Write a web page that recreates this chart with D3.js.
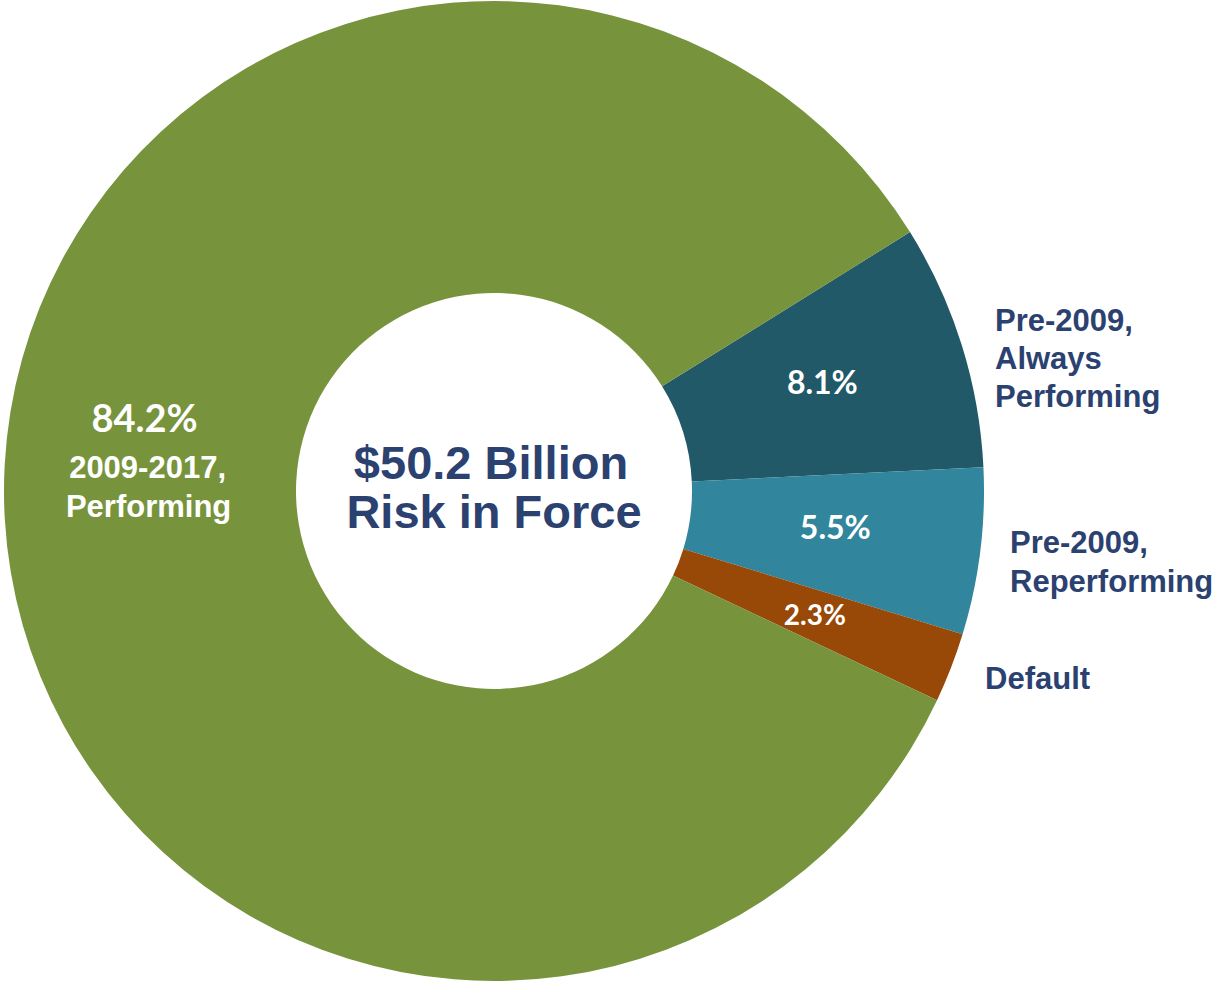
<!DOCTYPE html>
<html>
<head>
<meta charset="utf-8">
<script src="https://cdn.jsdelivr.net/npm/d3@7"></script>
<style>
  html, body { margin: 0; padding: 0; background: #ffffff; }
  svg { display: block; }
</style>
</head>
<body>
<svg id="chart" width="1218" height="983"></svg>
<script>
// Risk-in-force composition
const categories = ["Pre-2009, Always Performing", "Pre-2009, Reperforming", "Default", "2009-2017, Performing"];
const shares = [8.1, 5.5, 2.3, 84.2];
const sliceColors = ["#215968", "#31859C", "#984807", "#77933C"];
const centerTitle = ["$50.2 Billion", "Risk in Force"];

const W = 1218, H = 983;
const cx = 494, cy = 491;
const outerR = 490, innerR = 198;
const navy = "#2B4170";

const svg = d3.select("#chart");
const g = svg.append("g").attr("transform", `translate(${cx},${cy})`);

const start = 58.1 * Math.PI / 180;
const pie = d3.pie().sort(null).value(d => d.value)
  .startAngle(start).endAngle(start + 2 * Math.PI);
const arc = d3.arc().innerRadius(innerR).outerRadius(outerR);

const rows = categories.map((c, i) => ({ name: c, value: shares[i], color: sliceColors[i] }));
const arcs = pie(rows);

g.selectAll("path.slice").data(arcs).enter().append("path")
  .attr("class", "slice")
  .attr("d", arc)
  .attr("fill", d => d.data.color);

// Percentage labels at the slice centroids
const pctFont = "Lato, 'Open Sans', sans-serif";
const sansBold = "'Liberation Sans', Arial, sans-serif";
arcs.forEach((d, i) => {
  const [x, y] = arc.centroid(d);
  const label = d.data.value.toFixed(1) + "%";
  if (i === 3) {
    // large slice: percentage stacked above its category name
    const t = g.append("text").attr("text-anchor", "middle").attr("fill", "#ffffff");
    t.append("tspan").attr("x", x - 6).attr("y", y - 79)
      .attr("font-family", pctFont).attr("font-weight", 700).attr("font-size", 38)
      .text(label);
    t.append("tspan").attr("x", x - 3).attr("y", y - 33)
      .attr("font-family", sansBold).attr("font-weight", 700).attr("font-size", 31)
      .text("2009-2017,");
    t.append("tspan").attr("x", x - 2).attr("y", y + 6)
      .attr("font-family", sansBold).attr("font-weight", 700).attr("font-size", 31)
      .text("Performing");
  } else {
    const size = i === 2 ? 28 : 32;
    g.append("text")
      .attr("x", x).attr("y", y)
      .attr("dy", i === 2 ? "0.37em" : "0.17em")
      .attr("text-anchor", "middle")
      .attr("font-family", pctFont).attr("font-weight", 700).attr("font-size", size)
      .attr("fill", "#ffffff")
      .text(label);
  }
});

// Category names outside the ring on the right
const outside = [
  { lines: ["Pre-2009,", "Always", "Performing"], x: 995, y: 331, lh: 38 },
  { lines: ["Pre-2009,", "Reperforming"], x: 1010, y: 553, lh: 39 },
  { lines: ["Default"], x: 985, y: 689, lh: 38 }
];
outside.forEach(o => {
  const t = svg.append("text")
    .attr("font-family", sansBold)
    .attr("font-weight", 700).attr("font-size", 31)
    .attr("fill", navy);
  o.lines.forEach((ln, k) => {
    t.append("tspan").attr("x", o.x).attr("y", o.y + k * o.lh).text(ln);
  });
});

// Centre title
const ct = svg.append("text")
  .attr("text-anchor", "middle")
  .attr("font-family", sansBold)
  .attr("font-weight", 700).attr("font-size", 47)
  .attr("fill", navy);
ct.append("tspan").attr("x", 491).attr("y", 479).text(centerTitle[0]);
ct.append("tspan").attr("x", 494).attr("y", 528).text(centerTitle[1]);
</script>
</body>
</html>
